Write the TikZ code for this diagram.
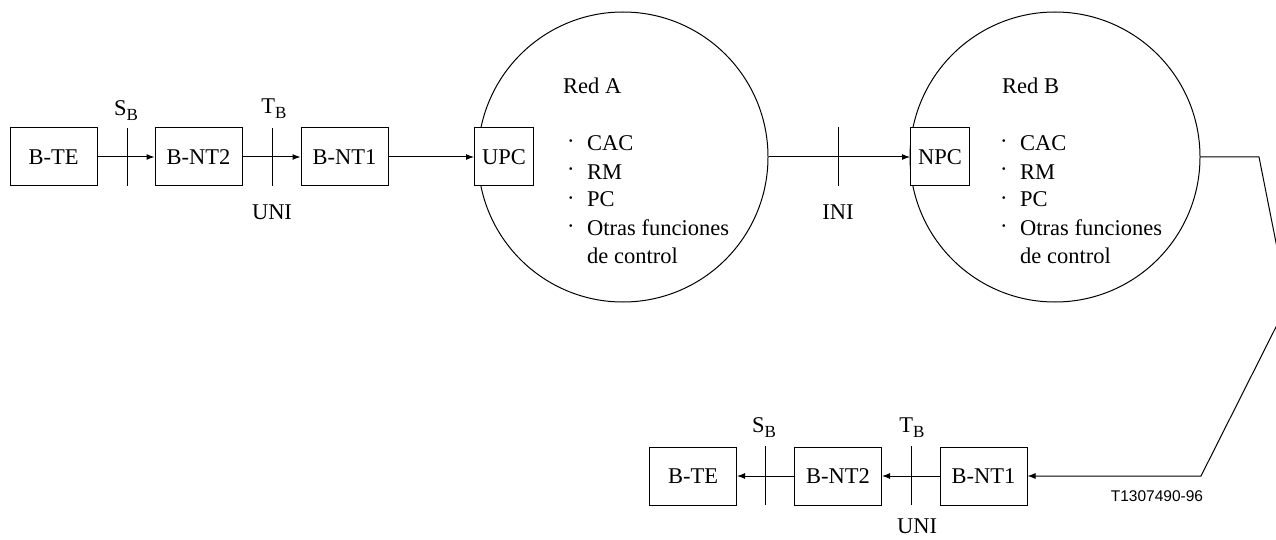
\documentclass[tikz,border=0pt]{standalone}
\usepackage{fontspec}
\setmainfont{Liberation Serif}
\newfontfamily\arialf{Liberation Sans}
\usetikzlibrary{arrows.meta}
\newcommand\lblsub[2]{#1\raisebox{-5pt}{\fontsize{17}{17}\selectfont #2}}
\tikzset{
  x=1pt, y=-1pt,
  every node/.style={font=\fontsize{22.5}{26}\selectfont, inner sep=0pt},
  blk/.style={draw, line width=1pt, minimum width=87pt, minimum height=58pt},
  ctl/.style={draw, line width=1pt, minimum width=59pt, minimum height=58pt},
  net/.style={draw, circle, line width=1pt, minimum size=290pt},
  conn/.style={line width=1pt, -{Latex[length=8pt,width=6pt]}},
  tick/.style={line width=1pt},
  lbl/.style={anchor=base},
  txt/.style={anchor=base west},
}
\begin{document}
\begin{tikzpicture}
\useasboundingbox (0,0) rectangle (1276,540);
\begin{scope}
\clip (0,0) rectangle (1276,540);
% networks
\node[net] (ra) at (623,157) {};
\node[net] (rb) at (1055,157) {};
% top row
\node[blk] (te1) at (53.5,157) {B-TE};
\node[blk] (nt21) at (198.5,157) {B-NT2};
\node[blk] (nt11) at (344.5,157) {B-NT1};
\node[ctl, fill=white] (upc) at (504,157) {UPC};
\node[ctl, fill=white] (npc) at (940,157) {NPC};
% bottom row
\node[blk] (te2) at (693,476) {B-TE};
\node[blk] (nt22) at (838,476) {B-NT2};
\node[blk] (nt12) at (983.5,476) {B-NT1};
% connectors
\draw[conn] (te1) -- (nt21);
\draw[conn] (nt21) -- (nt11);
\draw[conn] (nt11) -- (upc);
\draw[conn] (ra.east) -- (npc);
\draw[conn] (nt22) -- (te2);
\draw[conn] (nt12) -- (nt22);
\coordinate (k1) at (1259,157);
\coordinate (k2) at (1288,303);
\coordinate (k3) at (1201,476);
\draw[conn] (rb.east) -- (k1) -- (k2) -- (k3) -- (nt12);
% reference point ticks
\coordinate (s1a) at (127,128); \coordinate (s1b) at (127,186);
\coordinate (t1a) at (272,128); \coordinate (t1b) at (272,186);
\coordinate (ia) at (838,127); \coordinate (ib) at (838,186);
\coordinate (s2a) at (765,446); \coordinate (s2b) at (765,505);
\coordinate (t2a) at (911,446); \coordinate (t2b) at (911,505);
\draw[tick] (s1a) -- (s1b);
\draw[tick] (t1a) -- (t1b);
\draw[tick] (ia) -- (ib);
\draw[tick] (s2a) -- (s2b);
\draw[tick] (t2a) -- (t2b);
% labels
\node[lbl] (ls1) at (126,116) {\lblsub{S}{B}};
\node[lbl] (lt1) at (274,114) {\lblsub{T}{B}};
\node[lbl] (lu1) at (272,219) {UNI};
\node[lbl] (li) at (838,219) {INI};
\node[lbl] (ls2) at (764,432) {\lblsub{S}{B}};
\node[lbl] (lt2) at (912,432) {\lblsub{T}{B}};
\node[lbl] (lu2) at (917,533) {UNI};
\node[anchor=center, font=\arialf\fontsize{15.5}{18}\selectfont] (code) at (1157,496) {T1307490-96};
% Red A contents
\node[txt] (ha) at (563,94) {Red A};
\foreach \y/\t [count=\i] in {151/CAC,179/RM,207/PC,235/Otras funciones} {
  \node[txt] (ba\i) at (567,\y-2) {·};
  \node[txt] (ta\i) at (587,\y) {\t};
}
\node[txt] (ta5) at (587,263) {de control};
% Red B contents
\node[txt] (hb) at (1002,94) {Red B};
\foreach \y/\t [count=\i] in {151/CAC,179/RM,207/PC,235/Otras funciones} {
  \node[txt] (bb\i) at (1000,\y-2) {·};
  \node[txt] (tb\i) at (1020,\y) {\t};
}
\node[txt] (tb5) at (1020,263) {de control};
\end{scope}
\end{tikzpicture}
\end{document}
